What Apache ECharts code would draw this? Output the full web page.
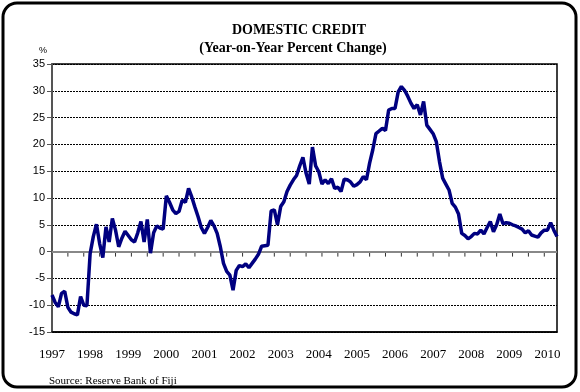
<!DOCTYPE html>
<html><head><meta charset="utf-8">
<script src="https://cdn.jsdelivr.net/npm/echarts@6/dist/echarts.min.js"></script>
<style>html,body{margin:0;padding:0;background:#fff}#c{width:580px;height:392px}</style>
</head><body><div id="c"></div>
<script>
var titleText = 'DOMESTIC CREDIT';
var subtitleText = '(Year-on-Year Percent Change)';
var unitLabel = '%';
var sourceText = 'Source: Reserve Bank of Fiji';
var startYear = 1997;
var months = [];
for (var k = 0; k < 160; k++) { months.push((startYear + Math.floor(k / 12)) + '-' + String(k % 12 + 1).padStart(2, '0')); }
var domesticCredit = [
-8.1,-9.5,-10.3,-7.8,-7.4,-10.4,-11.3,-11.6,-11.8,-8.4,-10.0,-10.1,
-0.4,2.8,5.1,1.5,-1.1,4.6,1.8,6.2,4.0,0.9,2.5,3.8,
3.0,2.2,1.8,3.5,5.6,1.8,6.0,-0.3,3.5,4.8,4.4,4.2,
10.4,9.2,7.8,7.1,7.5,9.6,9.2,11.8,10.2,8.3,6.5,4.5,
3.4,4.5,5.8,4.8,3.4,0.9,-2.2,-3.7,-4.4,-7.2,-3.5,-2.6,
-2.8,-2.3,-3.0,-2.2,-1.4,-0.5,1.0,1.1,1.2,7.6,7.8,5.0,
8.4,9.3,11.2,12.4,13.4,14.2,16.0,17.6,14.6,12.6,19.5,16.0,
14.9,12.6,13.4,12.7,13.6,11.8,12.0,11.2,13.5,13.4,13.0,12.2,
12.5,13.0,14.0,13.4,16.5,19.0,22.0,22.5,23.0,22.6,26.4,26.7,
26.7,29.8,30.8,30.1,29.0,27.7,26.7,27.4,25.5,28.0,23.6,22.8,
22.0,20.5,16.8,13.7,12.6,11.5,9.0,8.3,7.0,3.4,3.0,2.4,
2.8,3.4,3.3,4.0,3.3,4.5,5.6,3.7,5.0,7.0,5.2,5.4,
5.3,5.0,4.8,4.5,4.2,3.5,3.9,3.1,2.9,2.7,3.5,4.0,
4.0,5.4,4.0,2.8
];
var yMin = -15, yMax = 35, yStep = 5;
var zeroTickEvery = 5;
var zeroTicks = [];
for (var t = zeroTickEvery; t < months.length; t += zeroTickEvery) zeroTicks.push([t, 0]);

var chart = echarts.init(document.getElementById('c'), null, {renderer: 'canvas'});
chart.setOption({
  backgroundColor: '#fff',
  animation: false,
  title: [
    {text: titleText, left: 294, top: 18, textAlign: 'center',
     textStyle: {fontFamily: 'Liberation Serif', fontWeight: 'bold', fontSize: 14, color: '#000'}},
    {text: subtitleText, left: 288, top: 36, textAlign: 'center',
     textStyle: {fontFamily: 'Liberation Serif', fontWeight: 'bold', fontSize: 14, color: '#000'}},
    {text: unitLabel, left: 34, top: 41,
     textStyle: {fontFamily: 'Liberation Sans', fontWeight: 'normal', fontSize: 9, color: '#000'}},
    {text: sourceText, left: 44, top: 371,
     textStyle: {fontFamily: 'Liberation Serif', fontWeight: 'normal', fontSize: 11, color: '#000'}}
  ],
  graphic: [{type: 'rect', shape: {x: 3, y: 3, width: 573, height: 384, r: 14},
    style: {fill: 'none', stroke: '#000', lineWidth: 3}, z: -1}],
  grid: {left: 52, right: 23, top: 64, bottom: 60, show: true, borderColor: '#000', borderWidth: 1.5},
  xAxis: {type: 'category', data: months, boundaryGap: false, position: 'bottom',
     axisLine: {show: true, onZero: false, lineStyle: {color: '#000', width: 1.5}},
     axisTick: {show: false},
     axisLabel: {interval: 11, margin: 16, fontFamily: 'Liberation Serif', fontSize: 13, color: '#000',
       formatter: function (v) { return v.slice(0, 4); }},
     splitLine: {show: false}},
  yAxis: {type: 'value', min: yMin, max: yMax, interval: yStep,
     axisLine: {show: true, lineStyle: {color: '#555', width: 2}},
     axisTick: {show: true, length: 5, lineStyle: {color: '#555'}},
     axisLabel: {fontFamily: 'Liberation Sans', fontSize: 11, color: '#000', margin: 7},
     splitLine: {show: true, lineStyle: {color: '#000', type: [2, 1], width: 1}}},
  series: [
    {type: 'line', data: domesticCredit, showSymbol: false, symbol: 'none',
     lineStyle: {color: '#000080', width: 3.5}, z: 5,
     markLine: {silent: true, symbol: 'none', label: {show: false}, animation: false,
       lineStyle: {color: '#888', width: 2, type: 'solid'}, data: [{yAxis: 0}]}},
    {type: 'custom', data: zeroTicks, z: 4, silent: true,
     renderItem: function (params, api) {
       var p = api.coord([api.value(0), api.value(1)]);
       return {type: 'line', shape: {x1: p[0], y1: p[1], x2: p[0], y2: p[1] + 5},
         style: {stroke: '#333', lineWidth: 1}};
     }}
  ]
});
</script></body></html>
